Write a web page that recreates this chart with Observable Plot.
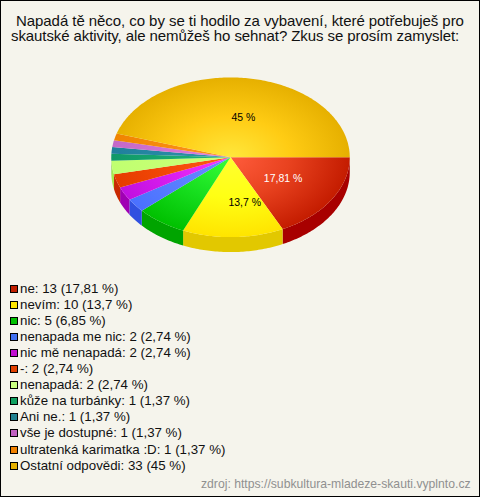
<!DOCTYPE html>
<html><head><meta charset="utf-8">
<script src="https://cdn.jsdelivr.net/npm/d3@7"></script>
<script src="https://cdn.jsdelivr.net/npm/@observablehq/plot@0.6"></script>
<style>
html,body{margin:0;padding:0;background:#f5f4ec}
#page{position:relative;width:480px;height:497px;box-sizing:border-box;border:1px solid #000;background:#f5f4ec;overflow:hidden;font-family:"Liberation Sans",Arial,sans-serif;color:#111}
#page>*{position:absolute}
.t{font-size:15px;white-space:nowrap;line-height:14px}
#chart{left:-1px;top:59px}
#chart svg{display:block;background:transparent}
.row{left:9px;font-size:13.3px;line-height:16px;white-space:nowrap;height:16px}
.sw{position:absolute;left:0;top:4px;width:6px;height:6px;border:1px solid #000}
.row span.l{position:absolute;left:10px;top:0}
#src{left:200px;top:476px;font-size:12.2px;line-height:14px;color:#909090;white-space:nowrap}
</style></head><body>
<div id="page">
<div class="t" style="left:15px;top:13px;letter-spacing:-0.06px">Napadá tě něco, co by se ti hodilo za vybavení, které potřebuješ pro</div>
<div class="t" style="left:10px;top:28px;letter-spacing:-0.09px">skautské aktivity, ale nemůžeš ho sehnat? Zkus se prosím zamyslet:</div>
<div id="chart"></div>
<div id="src">zdroj: https://subkultura-mladeze-skauti.vyplnto.cz</div>
</div>
<script>
const categories=["ne","nevím","nic","nenapada me nic","nic mě nenapadá","-","nenapadá","kůže na turbánky","Ani ne.","vše je dostupné","ultratenká karimatka :D","Ostatní odpovědi"];
const counts=[13,10,5,2,2,2,2,1,1,1,1,33];
const percents=["17,81","13,7","6,85","2,74","2,74","2,74","2,74","1,37","1,37","1,37","1,37","45"];
const swatchColors=["#c01f00","#ffe600","#00c000","#4070f0","#c010d0","#e04000","#c8ff80","#10a060","#208090","#c060c0","#f08000","#e6b000"];
const centerColors=["#ff5c3c","#ffff30","#38ff38","#6a8cff","#f838ff","#ff5a14","#ccff78","#20b878","#3090a8","#e080e0","#ff9420","#ffe83c"];
const midColors=["#e8421f","#ffff14","#18e020","#5a80ff","#dc20f0","#f44a08","#c6ff74","#18a870","#288aa4","#d474d4","#f88c10","#ffcc14"];
const edgeColors=["#c41c00","#ffe400","#00c000","#4a70ff","#c010e0","#e63c00","#c0ff70","#109868","#207f9c","#c468c8","#f08400","#e6b000"];
const sideColors=["#a80000","#e2c800","#00a400","#3050e0","#a000b4","#c82800","#a8e850","#0c8050","#186878","#a050a8","#c86800","#c09000"];
const depth=0.1875;
const total=d3.sum(counts);
const angles=Array.from(d3.cumsum([0,...counts]),c=>c/total*2*Math.PI);
const pt=(a,r=1,off=0)=>({x:r*Math.cos(a),y:r*Math.sin(a)+off});
function arcPts(a0,a1,off=0){const n=Math.max(2,Math.ceil((a1-a0)*60));return d3.range(n+1).map(i=>pt(a0+(a1-a0)*i/n,1,off));}
const marks=[];
marks.push((index,scales)=>{
  const ns="http://www.w3.org/2000/svg";
  const defs=document.createElementNS(ns,"defs");
  const cx=scales.x(0),cy=scales.y(0),rx=scales.x(1)-cx,ry=scales.y(1)-cy;
  counts.forEach((_,i)=>{
    const g=document.createElementNS(ns,"radialGradient");
    g.setAttribute("id","g"+i);g.setAttribute("gradientUnits","userSpaceOnUse");
    g.setAttribute("cx",0);g.setAttribute("cy",0);g.setAttribute("r",1);
    g.setAttribute("gradientTransform",`translate(${cx},${cy}) scale(${rx},${ry})`);
    [[0,centerColors[i]],[0.5,midColors[i]],[1,edgeColors[i]]].forEach(([o,c])=>{
      const s=document.createElementNS(ns,"stop");s.setAttribute("offset",o);s.setAttribute("stop-color",c);g.appendChild(s);});
    defs.appendChild(g);
  });
  return defs;
});
counts.forEach((_,i)=>{
  const a0=angles[i],a1=Math.min(angles[i+1],Math.PI);
  if(a0>=Math.PI)return;
  const wall=[...arcPts(a0,a1,0),...arcPts(a0,a1,depth).reverse()];
  marks.push(Plot.line(wall,{x:"x",y:"y",fill:sideColors[i],stroke:"none"}));
});
counts.forEach((_,i)=>{
  const face=[{x:0,y:0},...arcPts(angles[i],angles[i+1])];
  marks.push(Plot.line(face,{x:"x",y:"y",fill:`url(#g${i})`,stroke:"none"}));
});
const labelled=[[0,"#fff",2,0],[1,"#000",13,5],[11,"#000",4,0]];
labelled.forEach(([i,col,dx,dy])=>{
  const m=(angles[i]+angles[i+1])/2;
  marks.push(Plot.text([pt(m,0.5)],{x:"x",y:"y",text:()=>percents[i]+" %",fill:col,stroke:"none",fontSize:10.5,fontFamily:"Liberation Sans",dx,dy}));
});
const plot=Plot.plot({width:480,height:215,marginLeft:111,marginRight:130,marginTop:17,marginBottom:38,
  x:{domain:[-1,1],axis:null},y:{domain:[1,-1],axis:null},style:{background:"transparent"},marks});
document.getElementById("chart").appendChild(plot);
const page=document.getElementById("page");
categories.forEach((c,i)=>{
  const r=document.createElement("div");r.className="row";r.style.top=(279.5+i*16.1)+"px";
  const s=document.createElement("span");s.className="sw";s.style.background=swatchColors[i];r.appendChild(s);
  const l=document.createElement("span");l.className="l";l.textContent=`${c}: ${counts[i]} (${percents[i]} %)`;r.appendChild(l);
  page.appendChild(r);
});
</script></body></html>
